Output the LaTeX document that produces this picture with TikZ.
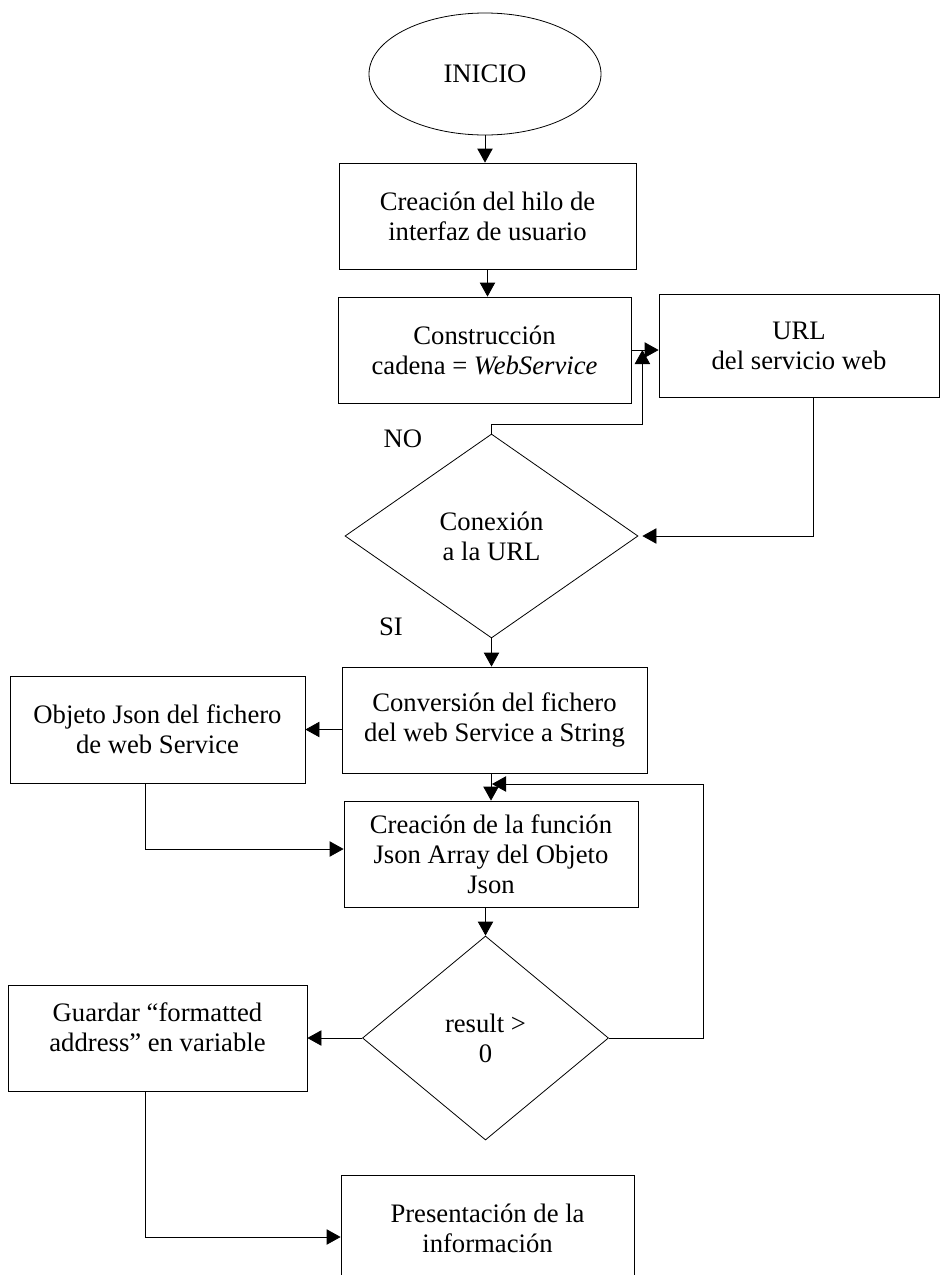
\documentclass[tikz,border=0pt]{standalone}
\usepackage{fontspec}
\setmainfont{Liberation Serif}
\usetikzlibrary{shapes.geometric,arrows.meta}
\begin{document}
\begin{tikzpicture}[x=0.75pt,y=-0.75pt,
  every node/.style={font=\fontsize{20}{22.5}\selectfont, align=center, inner sep=0pt},
  box/.style={draw, line width=0.6pt, rectangle},
  decision/.style={draw, line width=0.6pt, diamond},
  terminal/.style={draw, line width=0.6pt, ellipse},
  arr/.style={line width=0.6pt, -{Triangle[length=10.5pt,width=11.5pt]}}
]
\useasboundingbox (0,0) rectangle (941,1275);
\clip (0,0) rectangle (941,1275);

% start
\node[terminal, minimum width=174pt, minimum height=91.5pt] (inicio) at (485,74) {INICIO};

% process boxes
\node[box, minimum width=222.75pt, minimum height=79.5pt] (b1) at (487.5,216)
  {Creación del hilo de\\interfaz de usuario};
\node[box, minimum width=219.75pt, minimum height=79.5pt] (b2) at (484.5,350)
  {Construcción\\cadena = \textit{WebService}};
\node[box, minimum width=210pt, minimum height=77.25pt] (url) at (799,345.5)
  {URL\\del servicio web};
\node[decision, minimum width=219.75pt, minimum height=153pt] (d1) at (491.5,536)
  {Conexión\\a la URL};
\node[box, minimum width=228.75pt, minimum height=79.5pt] (b3) at (494.5,720)
  {Conversión del fichero\\del web Service a String};
\node[box, minimum width=221.25pt, minimum height=80.25pt] (objeto) at (157.5,729.5)
  {Objeto Json del fichero\\de web Service};
\node[box, minimum width=220.5pt, minimum height=79.5pt] (b4) at (491,854)
  {Creación de la función\\Json Array del Objeto\\Json};
\node[decision, minimum width=184.5pt, minimum height=153pt] (d2) at (485.5,1038)
  {result >\\0};
\node[box, minimum width=224.25pt, minimum height=79.5pt] (guardar) at (157.5,1038) {};
\node (guardartxt) at ([yshift=8pt]guardar.center) {Guardar “formatted\\address” en variable};
\node[box, minimum width=219.75pt, minimum height=79.5pt] (present) at (487.5,1228)
  {Presentación de la\\información};

% branch labels
\node (no) at (403,439) {NO};
\node (si) at (391,627) {SI};

% junction where the loop re-enters above the Json Array box
\coordinate (loopin) at (492,784);

% connectors
\draw[arr] (inicio.south) -- (inicio.south |- b1.north);
\draw[arr] (b1.south) -- (b1.south |- b2.north);
\draw[arr] (b2.east) -- (b2.east -| url.west);
\draw[arr] (d1.north) -- ++(0,-9) -| ([xshift=8.25pt]b2.east);
\draw[arr, shorten >=3pt] ([xshift=10.5pt]url.south) |- (d1.east);
\draw[arr] (d1.south) -- (d1.south |- b3.north);
\draw[arr] (objeto.east -| b3.west) -- (objeto.east);
\draw[arr] (b4.north |- b3.south) -- (b4.north);
\draw[arr] ([xshift=-9.4pt]objeto.south) |- ([yshift=3.75pt]b4.west);
\draw[arr] (d2.north |- b4.south) -- (d2.north);
\draw[arr] (d2.east) -- ++(94,0) |- (loopin);
\draw[arr] (d2.west) -- (guardar.east);
\draw[arr] ([xshift=-9.4pt]guardar.south) |- ([yshift=-6.75pt]present.west);
\end{tikzpicture}
\end{document}
